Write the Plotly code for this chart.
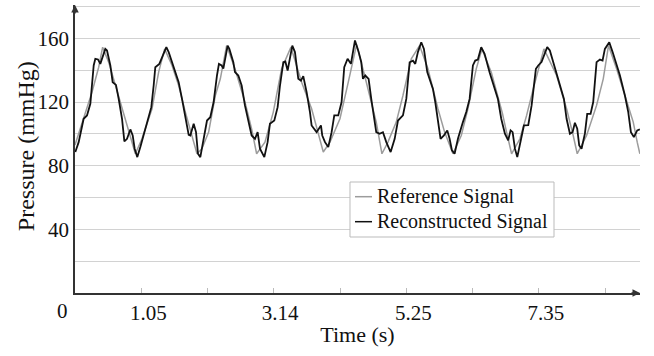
import plotly.graph_objects as go

# ---------------- data ----------------
ref_t = [0.0, 0.269, 0.375, 0.438, 0.533, 0.639, 0.745, 0.824, 0.877, 0.929, 0.956,
         1.061, 1.22, 1.325, 1.42, 1.537, 1.642, 1.748, 1.853, 1.932, 2.011, 2.117,
         2.223, 2.302, 2.402, 2.534, 2.692, 2.798, 2.877, 3.009, 3.141, 3.273, 3.421,
         3.59, 3.748, 3.853, 3.933, 4.039, 4.197, 4.329, 4.46, 4.588, 4.693, 4.772,
         4.862, 4.957, 5.089, 5.195, 5.327, 5.458, 5.591, 5.749, 5.855, 5.987, 6.119,
         6.224, 6.356, 6.446, 6.594, 6.699, 6.77, 6.836, 6.916, 7.048, 7.154, 7.259,
         7.365, 7.428, 7.629, 7.787, 7.892, 7.956, 8.104, 8.262, 8.368, 8.451, 8.579,
         8.738, 8.843, 8.906, 8.948]
ref_v = [93.0, 126.2, 141.9, 154.5, 145.1, 130.4, 116.8, 105.3, 99.0, 90.7, 87.5,
         96.9, 115.8, 138.8, 153.4, 143.0, 130.4, 113.7, 99.0, 87.5, 90.7, 101.1,
         124.1, 134.6, 155.5, 140.9, 120.0, 103.2, 87.5, 94.8, 113.7, 140.9, 154.5,
         132.5, 115.8, 101.1, 88.6, 94.8, 109.5, 132.5, 156.0, 136.7, 120.0, 107.4,
         87.5, 94.8, 107.4, 124.1, 147.2, 155.5, 140.9, 115.8, 101.1, 87.5, 99.0,
         115.8, 140.9, 153.4, 138.8, 124.1, 113.0, 101.1, 87.5, 96.9, 111.6, 128.3,
         145.1, 153.4, 136.7, 115.8, 99.0, 87.5, 99.0, 117.9, 134.6, 155.5, 140.9,
         120.0, 107.4, 94.8, 87.5]

rec_t = [0.005, 0.058, 0.137, 0.19, 0.243, 0.296, 0.322, 0.364, 0.401, 0.48, 0.507,
         0.56, 0.597, 0.649, 0.692, 0.745, 0.782, 0.824, 0.877, 0.914, 0.945, 0.987,
         1.035, 1.088, 1.167, 1.209, 1.246, 1.272, 1.336, 1.389, 1.447, 1.484, 1.537,
         1.59, 1.642, 1.695, 1.748, 1.801, 1.827, 1.88, 1.917, 1.948, 1.985, 2.038,
         2.091, 2.143, 2.196, 2.249, 2.28, 2.323, 2.35, 2.418, 2.445, 2.508, 2.534,
         2.587, 2.64, 2.692, 2.745, 2.798, 2.851, 2.893, 2.93, 2.999, 3.051, 3.088,
         3.157, 3.21, 3.247, 3.3, 3.332, 3.368, 3.442, 3.484, 3.537, 3.579, 3.616,
         3.669, 3.722, 3.748, 3.827, 3.896, 3.917, 3.96, 4.012, 4.065, 4.107, 4.17,
         4.223, 4.265, 4.318, 4.371, 4.435, 4.49, 4.535, 4.561, 4.598, 4.651, 4.693,
         4.735, 4.772, 4.825, 4.878, 4.931, 5.0, 5.064, 5.116, 5.195, 5.248, 5.301,
         5.353, 5.39, 5.432, 5.485, 5.527, 5.58, 5.617, 5.67, 5.707, 5.749, 5.791,
         5.844, 5.897, 5.934, 5.971, 6.013, 6.066, 6.145, 6.198, 6.251, 6.303, 6.34,
         6.382, 6.435, 6.488, 6.567, 6.62, 6.699, 6.752, 6.81, 6.862, 6.9, 6.932,
         6.969, 7.006, 7.059, 7.111, 7.18, 7.233, 7.301, 7.338, 7.39, 7.428, 7.48,
         7.522, 7.575, 7.639, 7.692, 7.745, 7.787, 7.84, 7.882, 7.919, 7.956, 7.987,
         8.024, 8.077, 8.114, 8.167, 8.209, 8.262, 8.315, 8.357, 8.394, 8.463, 8.516,
         8.579, 8.632, 8.711, 8.764, 8.806, 8.853, 8.906, 8.948]
rec_v = [88.6, 94.8, 109.5, 111.6, 118.9, 143.0, 147.2, 146.8, 144.0, 153.4, 152.4,
         143.0, 132.5, 130.8, 122.0, 109.5, 95.3, 96.9, 102.8, 99.0, 90.7, 85.4,
         91.7, 99.0, 109.5, 116.8, 130.4, 141.9, 144.0, 149.3, 154.5, 151.4, 145.1,
         138.8, 132.5, 122.0, 109.5, 99.4, 99.0, 106.4, 101.1, 87.5, 85.4, 96.9,
         108.4, 110.5, 120.0, 136.7, 144.0, 143.0, 141.0, 155.5, 153.4, 145.0, 138.8,
         136.7, 130.4, 117.9, 107.4, 99.0, 96.9, 101.1, 90.7, 85.4, 94.8, 106.4,
         108.4, 116.8, 130.4, 145.1, 145.5, 139.8, 155.5, 151.4, 134.6, 133.5, 136.3,
         126.2, 113.7, 105.3, 101.1, 105.3, 99.0, 94.8, 91.7, 101.1, 111.6, 111.6,
         120.0, 141.9, 147.2, 144.0, 158.7, 152.0, 145.0, 134.6, 136.7, 134.6, 122.0,
         109.5, 101.1, 100.1, 101.1, 94.8, 88.6, 96.9, 108.4, 111.6, 122.0, 145.0,
         146.0, 144.0, 151.4, 157.6, 153.4, 138.8, 134.6, 128.3, 120.0, 109.5, 96.9,
         99.0, 102.2, 96.9, 89.6, 87.5, 96.9, 107.4, 113.7, 122.0, 143.0, 146.1,
         146.7, 154.5, 150.3, 138.8, 132.5, 122.0, 109.5, 100.1, 95.9, 102.2, 101.1,
         90.7, 85.4, 94.8, 105.3, 105.5, 117.9, 140.9, 143.0, 145.1, 149.3, 154.5,
         152.4, 145.1, 136.7, 130.4, 122.0, 109.5, 100.1, 101.1, 107.0, 103.2, 92.7,
         90.7, 100.1, 112.6, 112.6, 120.0, 145.1, 146.7, 146.1, 153.4, 157.6, 151.4,
         143.0, 136.7, 124.1, 113.7, 101.1, 98.0, 102.2, 102.8]

x_tick_vals = [1.05, 2.1, 3.14, 4.2, 5.25, 6.3, 7.35, 8.4]
x_tick_text = ["1.05", "", "3.14", "", "5.25", "", "7.35", ""]
y_tick_vals = [40, 80, 120, 160]
y_tick_text = ["40", "80", "120", "160"]

legend_names = ["Reference Signal", "Reconstructed Signal"]
FONT = "Liberation Serif, Times New Roman, serif"

fig = go.Figure()
fig.add_trace(go.Scatter(x=ref_t, y=ref_v, mode="lines", name=legend_names[0],
                         line=dict(color="#9c9c9c", width=1.5), showlegend=False))
fig.add_trace(go.Scatter(x=rec_t, y=rec_v, mode="lines", name=legend_names[1],
                         line=dict(color="#111111", width=1.8), showlegend=False))

fig.update_layout(
    width=654, height=356,
    margin=dict(l=75, r=14, t=5, b=63),
    paper_bgcolor="white", plot_bgcolor="white",
    font=dict(family=FONT, size=21, color="#111"),
    xaxis=dict(range=[0, 8.95], showgrid=False, zeroline=False,
               showline=True, linecolor="#333", linewidth=1.5,
               ticks="inside", ticklen=5, tickcolor="#bbbbbb", tickwidth=1,
               tickmode="array", tickvals=x_tick_vals, ticktext=x_tick_text,
               ticklabelshift=7, tickfont=dict(family=FONT, size=21, color="#111"),
               title=dict(text="Time (s)", font=dict(family=FONT, size=22, color="#111"),
                          standoff=3)),
    yaxis=dict(range=[0, 181], showgrid=True, gridcolor="#d2d2d2", gridwidth=1,
               zeroline=False, showline=True, linecolor="#333", linewidth=1.5,
               ticks="", tickmode="array", tickvals=y_tick_vals, ticktext=y_tick_text,
               tickfont=dict(family=FONT, size=21, color="#111"),
               minor=dict(tickmode="array", tickvals=[20, 60, 100, 140, 180],
                          showgrid=True, gridcolor="#d2d2d2", gridwidth=1, ticks="")),
)

# y-axis title
fig.add_annotation(xref="paper", yref="paper", x=-0.0867, y=0.51, text="Pressure (mmHg)",
                   showarrow=False, textangle=-90, xanchor="center", yanchor="middle",
                   font=dict(family=FONT, size=24, color="#111"))
# origin label "0"
fig.add_annotation(xref="paper", yref="paper", x=0, y=0, text="0", showarrow=False,
                   xanchor="center", yanchor="middle",
                   xshift=-13, yshift=-18, font=dict(family=FONT, size=21, color="#111"))
# axis arrows
fig.add_annotation(xref="paper", yref="paper", x=1.0, y=0, ax=-10, ay=0, text="",
                   showarrow=True, arrowhead=2, arrowsize=1, arrowwidth=1.5, arrowcolor="#333")
fig.add_annotation(xref="paper", yref="paper", x=0, y=1.0, ax=0, ay=10, text="",
                   showarrow=True, arrowhead=2, arrowsize=1, arrowwidth=1.5, arrowcolor="#333")

# manual legend
fig.add_shape(type="rect", xref="paper", yref="paper", x0=0.4867, x1=0.8478, y0=0.1944, y1=0.3854,
              fillcolor="white", line=dict(color="#bbbbbb", width=1), layer="above")
leg_y = [0.3344, 0.2476]
leg_col = ["#9c9c9c", "#111111"]
for name, yy, col in zip(legend_names, leg_y, leg_col):
    fig.add_shape(type="line", xref="paper", yref="paper", x0=0.4956, x1=0.5257, y0=yy, y1=yy,
                  line=dict(color=col, width=1.5), layer="above")
    fig.add_annotation(xref="paper", yref="paper", x=0.531, y=yy, text=name, showarrow=False,
                       xanchor="left", yanchor="middle", font=dict(family=FONT, size=20, color="#111"))

fig.write_html("out.html", config={"displayModeBar": False},
               post_script="document.body.style.margin='0';document.body.style.overflow='hidden';")
